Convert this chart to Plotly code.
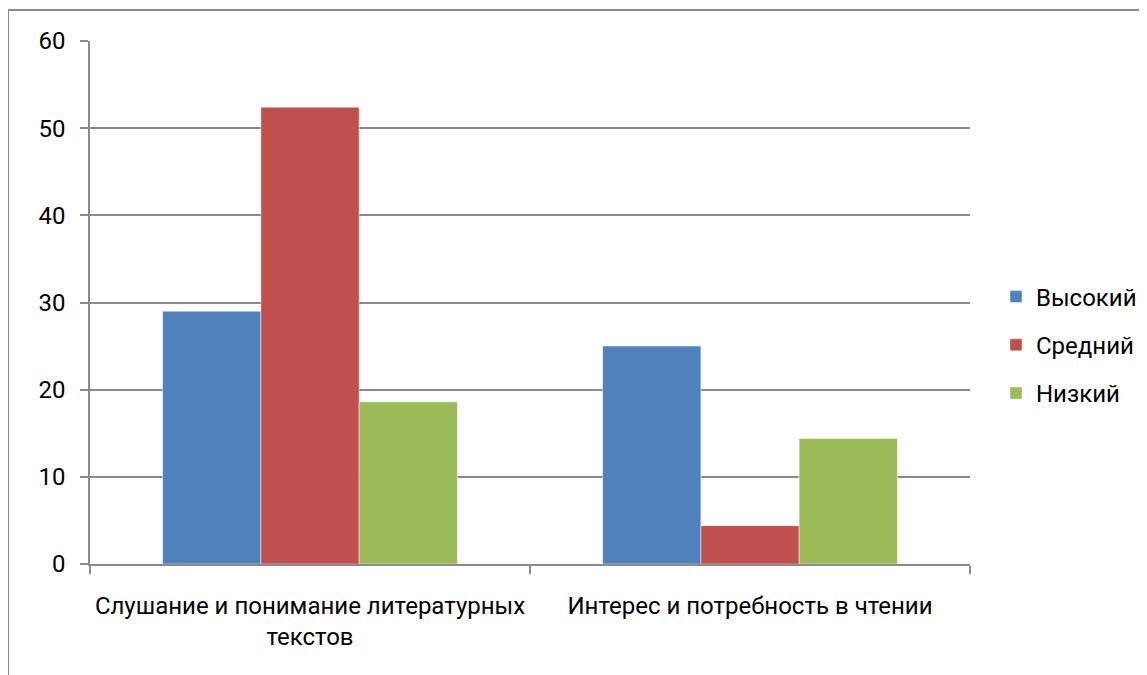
import plotly.graph_objects as go

categories = ["Слушание и понимание литературных<br>текстов", "Интерес и потребность в чтении"]
series_names = ["Высокий", "Средний", "Низкий"]
vysokiy = [29.0, 25.0]
sredniy = [52.4, 4.4]
nizkiy = [18.6, 14.4]
colors = ["#4F81BD", "#C0504D", "#9BBB59"]
y_ticks = [0, 10, 20, 30, 40, 50, 60]

FONT = "Roboto"
FS = 24
GRID = "#8a8a8a"

# page body has an 8px margin; figure coordinates are viewport minus 8
OFF = 8
W, H = 1147 - OFF, 675 - OFF
L, T = 90 - OFF, 41 - OFF
R = W - (970 - OFF)
B = H - (564 - OFF)
pw, ph = W - L - R, H - T - B

fig = go.Figure()
for name, vals, col in zip(series_names, [vysokiy, sredniy, nizkiy], colors):
    fig.add_trace(go.Bar(
        x=categories, y=vals, name=name, legendgroup=name,
        marker=dict(color=col, line=dict(color="rgba(255,255,255,0.45)", width=1)),
    ))

def px_x(xv):  # viewport px -> paper
    return (xv - OFF - L) / pw

def px_y(yv):
    return (H - B - (yv - OFF)) / ph

fig.update_layout(
    width=W, height=H,
    margin=dict(l=L, r=R, t=T, b=B, autoexpand=False),
    paper_bgcolor="white", plot_bgcolor="white",
    barmode="group", bargap=0.33, bargroupgap=0,
    font=dict(family=FONT, size=FS, color="black"),
    legend=dict(
        x=px_x(996), y=px_y(345), yanchor="middle", xanchor="left",
        font=dict(family=FONT, size=FS, color="black"),
        tracegroupgap=14, itemwidth=30, bgcolor="rgba(0,0,0,0)",
    ),
    xaxis=dict(
        type="category", showgrid=False, zeroline=False,
        showline=True, linecolor=GRID, linewidth=1.5,
        ticks="outside", tickson="boundaries", ticklen=8, tickcolor=GRID, tickwidth=1.5,
        ticklabelstandoff=19, tickfont=dict(family=FONT, size=FS, color="black"),
    ),
    yaxis=dict(
        range=[0, 60], tickvals=y_ticks, ticktext=[str(v) for v in y_ticks],
        showgrid=True, gridcolor=GRID, gridwidth=1.5, zeroline=False,
        showline=True, linecolor=GRID, linewidth=1.5,
        ticks="outside", ticklen=8, tickcolor=GRID, tickwidth=1.5,
        ticklabelstandoff=10, tickfont=dict(family=FONT, size=FS, color="black"),
    ),
    shapes=[dict(
        type="path", xref="paper", yref="paper",
        path=f"M {px_x(8)} {px_y(676)} L {px_x(8)} {px_y(10)} L {px_x(1146)} {px_y(10)}",
        line=dict(color=GRID, width=2),
    )],
)

fig.write_html("out.html")
